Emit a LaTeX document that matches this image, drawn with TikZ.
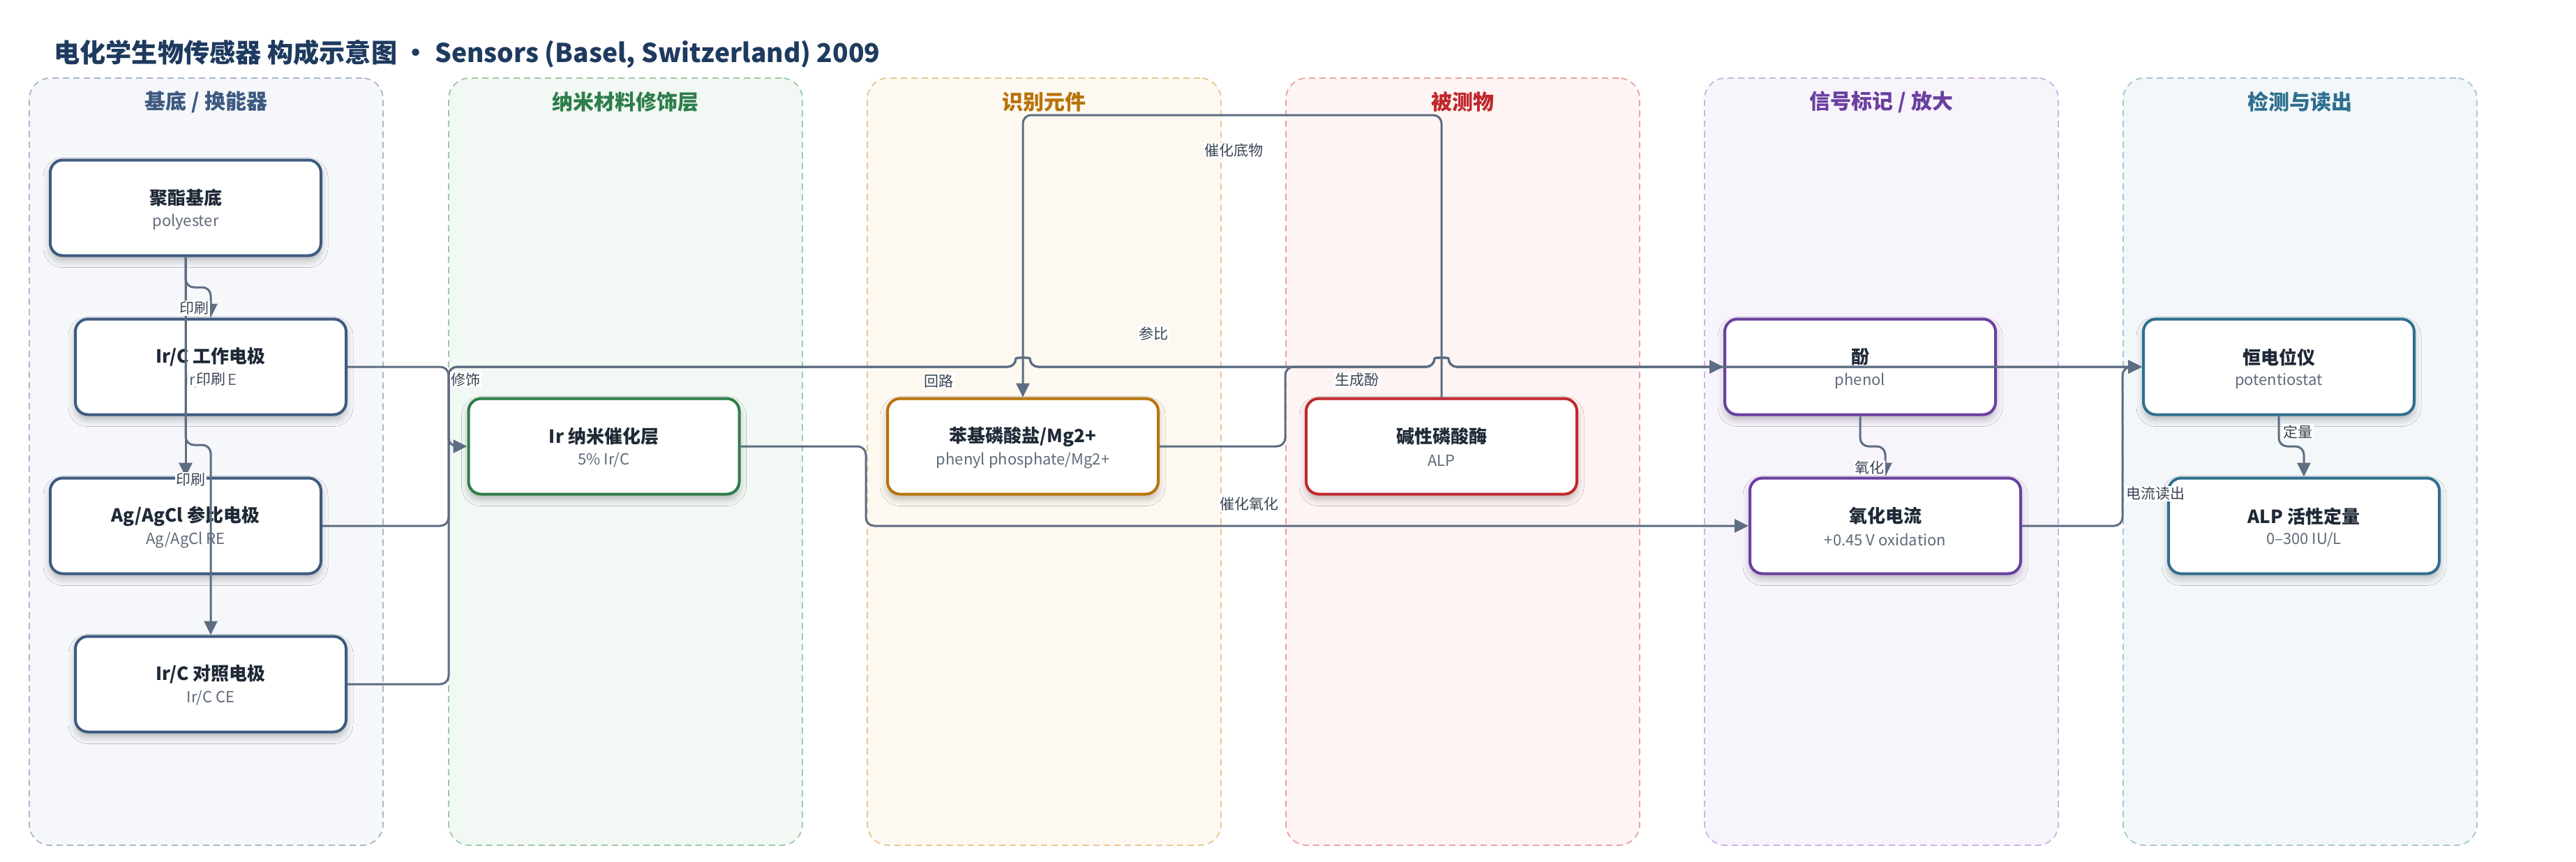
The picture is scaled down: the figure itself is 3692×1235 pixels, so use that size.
\documentclass[tikz,border=0pt]{standalone}
\usepackage{fontspec}
\setmainfont{Noto Sans CJK SC}
\usetikzlibrary{arrows.meta,calc,shadows.blur}
\definecolor{edgec}{HTML}{5D6D82}
\definecolor{titlec}{HTML}{1E3A5F}
\definecolor{txtd}{HTML}{1F2937}
\definecolor{txts}{HTML}{5F6A7A}
\definecolor{lblc}{HTML}{3A4454}
\definecolor{laAb}{HTML}{A9B6CC}\definecolor{laAf}{HTML}{F5F7FB}\definecolor{laAc}{HTML}{3D5A80}
\definecolor{laBb}{HTML}{9CCAA9}\definecolor{laBf}{HTML}{F2F8F4}\definecolor{laBc}{HTML}{2E7D4A}
\definecolor{laCb}{HTML}{E8C690}\definecolor{laCf}{HTML}{FDF9F1}\definecolor{laCc}{HTML}{B8730A}
\definecolor{laDb}{HTML}{E8A3A3}\definecolor{laDf}{HTML}{FDF4F3}\definecolor{laDc}{HTML}{C0282D}
\definecolor{laEb}{HTML}{C9B3E3}\definecolor{laEf}{HTML}{F8F4FC}\definecolor{laEc}{HTML}{6A3FA0}
\definecolor{laFb}{HTML}{A3C7D3}\definecolor{laFf}{HTML}{F3F7F9}\definecolor{laFc}{HTML}{2E6F8E}
\tikzset{
  lanebox/.style n args={2}{draw=#1, fill=#2, line width=1.8pt, dash pattern=on 9pt off 6pt,
    rounded corners=30pt, minimum width=507pt, minimum height=1100pt, inner sep=0pt},
  lanehead/.style={font=\fontsize{30}{36}\selectfont\bfseries, text=#1, inner sep=0pt},
  nbox/.style={draw=#1, line width=4pt, fill=white, rounded corners=18pt,
    minimum width=388pt, minimum height=137pt, inner sep=0pt,
    blur shadow={shadow xshift=0pt, shadow yshift=-7pt, shadow blur radius=10pt, shadow opacity=26}},
  ttl/.style={font=\fontsize{26}{30}\selectfont\bfseries, text=txtd, inner sep=0pt},
  subt/.style={font=\fontsize{22}{26}\selectfont, text=txts, inner sep=0pt},
  elabel/.style={fill=white, inner sep=1.5pt, font=\fontsize{21}{25}\selectfont, text=lblc},
  edge/.style={draw=edgec, line width=3pt, rounded corners=12pt, -{Triangle[length=20pt,width=19pt]}}
}
\begin{document}
\begin{tikzpicture}[x=1pt,y=-1pt]
\useasboundingbox (0,0) rectangle (3692,1235);
\fill[white] (0,0) rectangle (3692,1235);
% title
\node[anchor=west, inner sep=0pt, text=titlec, font=\fontsize{37.2}{45}\selectfont\bfseries] (title) at (77,77)
  {电化学生物传感器 构成示意图 · Sensors (Basel, Switzerland) 2009};
% lanes
\node[lanebox={laAb}{laAf}] (laneA) at (295.5,662) {};
\node[lanebox={laBb}{laBf}] (laneB) at (896.5,662) {};
\node[lanebox={laCb}{laCf}] (laneC) at (1496.5,662) {};
\node[lanebox={laDb}{laDf}] (laneD) at (2096.5,662) {};
\node[lanebox={laEb}{laEf}] (laneE) at (2696.5,662) {};
\node[lanebox={laFb}{laFf}] (laneF) at (3296.5,662) {};
\node[lanehead=laAc] (hA) at (295.5,146) {基底 / 换能器};
\node[lanehead=laBc] (hB) at (896.5,146) {纳米材料修饰层};
\node[lanehead=laCc] (hC) at (1496.5,146) {识别元件};
\node[lanehead=laDc] (hD) at (2096.5,146) {被测物};
\node[lanehead=laEc] (hE) at (2696.5,146) {信号标记 / 放大};
\node[lanehead=laFc] (hF) at (3296.5,146) {检测与读出};
% nodes
\node[nbox=laAc] (poly) at (266,298) {};
\node[nbox=laAc] (WE) at (302,526) {};
\node[nbox=laAc] (RE) at (266,754) {};
\node[nbox=laAc] (CE) at (302,981) {};
\node[nbox=laBc] (nano) at (865.5,640) {};
\node[nbox=laCc] (sub) at (1466,640) {};
\node[nbox=laDc] (alp) at (2066,640) {};
\node[nbox=laEc] (phenol) at (2666,526) {};
\node[nbox=laEc] (oxi) at (2702,754) {};
\node[nbox=laFc] (pot) at (3266,526) {};
\node[nbox=laFc] (alpq) at (3302,754) {};
% node texts
\foreach \n/\t/\s in {poly/聚酯基底/polyester, WE/Ir\slash C 工作电极/Ir\slash C WE, RE/Ag\slash AgCl 参比电极/Ag\slash AgCl RE,
  CE/Ir\slash C 对照电极/Ir\slash C CE, nano/Ir 纳米催化层/5\% Ir\slash C, sub/苯基磷酸盐\slash Mg2+/phenyl phosphate\slash Mg2+,
  alp/碱性磷酸酶/ALP, phenol/酚/phenol, oxi/氧化电流/+0.45 V oxidation, pot/恒电位仪/potentiostat, alpq/ALP 活性定量/0–300 IU\slash L}{
  \node[ttl] (\n-t) at ($(\n.center)+(0,-14)$) {\t};
  \node[subt] (\n-s) at ($(\n.center)+(0,20)$) {\s};
}
% helper coordinates
\coordinate (bus) at (643,0);
\coordinate (b9) at (1241,0);
\coordinate (b8) at (1842,0);
\coordinate (b11) at (3042,0);
\coordinate (y1) at (0,412);
\coordinate (y3) at (0,638);
\coordinate (yt) at (0,165);
\coordinate (y10) at (0,640);
\coordinate (h1) at (sub.north |- pot.west);
\coordinate (h2) at (alp.north |- pot.west);
% edges
\draw[edge] (poly.south) -- (poly.south |- y1) -| (WE.north);
\draw[edge] (poly.south) -- (RE.north);
\draw[edge] (poly.south) -- (poly.south |- y3) -| (CE.north);
\draw[edge] (WE.east) -- (bus |- WE.east) -- (bus |- nano.west) -- (nano.west);
\draw[edge] (alp.north) -- (alp.north |- yt) -- (sub.north |- yt) -- (sub.north);
\draw[edge] (RE.east) -- (bus |- RE.east) -- (bus |- pot.west) -- ($(h1)+(-10,0)$)
  .. controls ($(h1)+(-10,-13.5)$) and ($(h1)+(10,-13.5)$) .. ($(h1)+(10,0)$) -- ($(h2)+(-10,0)$)
  .. controls ($(h2)+(-10,-13.5)$) and ($(h2)+(10,-13.5)$) .. ($(h2)+(10,0)$) -- (pot.west);
\draw[edge] (CE.east) -- (bus |- CE.east) -- (bus |- pot.west) -- ($(h1)+(-10,0)$)
  .. controls ($(h1)+(-10,-13.5)$) and ($(h1)+(10,-13.5)$) .. ($(h1)+(10,0)$) -- ($(h2)+(-10,0)$)
  .. controls ($(h2)+(-10,-13.5)$) and ($(h2)+(10,-13.5)$) .. ($(h2)+(10,0)$) -- (pot.west);
\draw[edge] (sub.east) -- (b8 |- sub.east) -- (b8 |- phenol.west) -- ($(h2)+(-10,0)$)
  .. controls ($(h2)+(-10,-13.5)$) and ($(h2)+(10,-13.5)$) .. ($(h2)+(10,0)$) -- (phenol.west);
\draw[edge] (nano.east) -- (b9 |- nano.east) -- (b9 |- oxi.west) -- (oxi.west);
\draw[edge] (phenol.south) -- (phenol.south |- y10) -| (oxi.north);
\draw[edge] (oxi.east) -- (b11 |- oxi.east) -- (b11 |- pot.west) -- (pot.west);
\draw[edge] (pot.south) -- (pot.south |- y10) -| (alpq.north);
% edge labels
\node[elabel] (l1) at (278,442) {印刷};
\node[elabel] (l2) at (302,544) {印刷};
\node[elabel] (l3) at (273,688) {印刷};
\node[elabel] (l4) at (667,544) {修饰};
\node[elabel] (l5) at (1653,478) {参比};
\node[elabel] (l6) at (1345,546) {回路};
\node[elabel] (l7) at (1768,216) {催化底物};
\node[elabel] (l8) at (1945,545) {生成酚};
\node[elabel] (l9) at (1790,723) {催化氧化};
\node[elabel] (l10) at (2679,671) {氧化};
\node[elabel] (l11) at (3293,619) {定量};
\node[elabel] (l12) at (3089,708) {电流读出};
\end{tikzpicture}
\end{document}
